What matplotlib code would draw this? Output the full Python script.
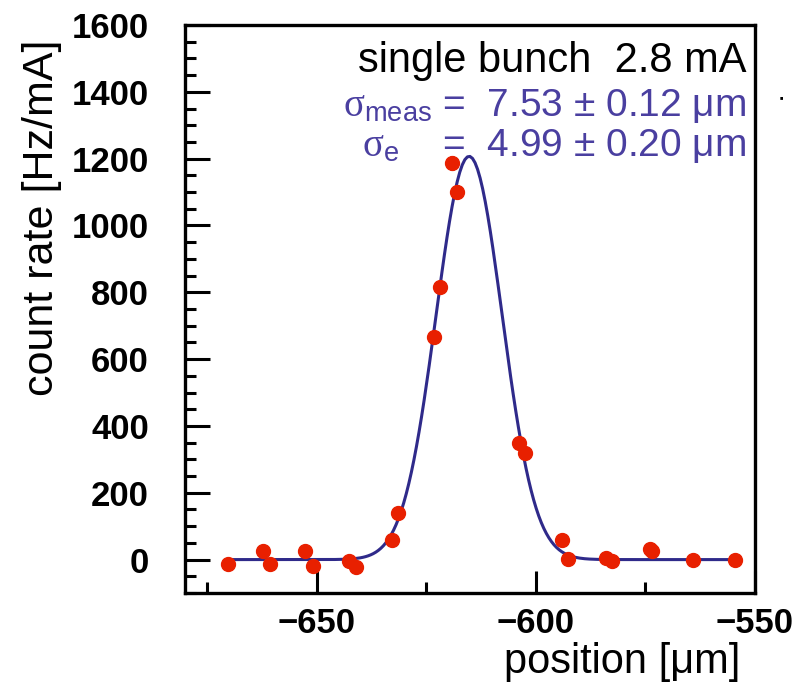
import numpy as np
import matplotlib
matplotlib.use("Agg")
import matplotlib.pyplot as plt
from matplotlib.ticker import MultipleLocator

plt.rcParams['font.family'] = ['Liberation Sans', 'DejaVu Sans']
plt.rcParams['mathtext.fontset'] = 'custom'
plt.rcParams['mathtext.rm'] = 'Liberation Serif'
plt.rcParams['mathtext.it'] = 'Liberation Serif:italic'
plt.rcParams['mathtext.sf'] = 'Liberation Sans'

# measured data (position in um, count rate in Hz/mA)
pos = [-670.2, -662.2, -660.7, -652.7, -650.8, -642.7, -641.0, -632.9, -631.4,
       -623.2, -621.9, -619.2, -617.9, -603.9, -602.5, -594.0, -592.7,
       -583.9, -582.7, -573.9, -573.4, -564.1, -554.6]
rate = [-12, 26, -12, 26, -20, -5, -22, 60, 140,
        667, 815, 1187, 1101, 350, 318, 60, 1,
        5, -5, 31, 26, -2, -2]
err = [12, 12, 12, 12, 12, 12, 12, 12, 12,
       18, 18, 20, 20, 16, 16, 12, 12,
       12, 12, 12, 12, 12, 12]

# gaussian fit parameters
fit_amp = 1207.0
fit_mu = -615.2
fit_sigma = 7.53
fit_range = (-670.2, -554.6)

fig = plt.figure(figsize=(8.07, 6.85), dpi=100)
ax = fig.add_axes([0.2292, 0.1343, 0.7064, 0.8292])

xf = np.linspace(fit_range[0], fit_range[1], 200)
yf = fit_amp * np.exp(-(xf - fit_mu) ** 2 / (2 * fit_sigma ** 2))
ax.plot(xf, yf, color='#2f2a8a', lw=2.2, zorder=2)

ax.errorbar(pos, rate, yerr=err, fmt='o', color='#e82000', ms=10,
            mec='#e82000', elinewidth=3.5, capsize=0, zorder=3)

ax.set_xlim(-680, -550)
ax.set_ylim(-100, 1600)
ax.xaxis.set_minor_locator(MultipleLocator(25))
ax.yaxis.set_major_locator(MultipleLocator(200))
ax.yaxis.set_minor_locator(MultipleLocator(50))
ax.set_xticks([-650, -600, -550])
ax.set_xticklabels(['\u2212650', '\u2212600', '\u2212550'])

for s in ax.spines.values():
    s.set_linewidth(2.4)
ax.tick_params(which='both', direction='in', top=False, right=False,
               width=2.2, labelsize=25)
ax.tick_params(axis='x', which='major', length=16, pad=10)
ax.tick_params(axis='x', which='minor', length=8)
ax.tick_params(axis='y', which='major', length=18, pad=26)
ax.tick_params(axis='y', which='minor', length=8)
for lab in ax.get_xticklabels() + ax.get_yticklabels():
    lab.set_fontweight('bold')

ax.set_xlabel('position [\u03bcm]', fontsize=30, loc='right')
ax.xaxis.set_label_coords(0.974, -0.086)
ax.set_ylabel('count rate [Hz/mA]', fontsize=31, loc='top')
ax.yaxis.set_label_coords(-0.215, 0.974)

ax.text(0.985, 0.972, 'single bunch  2.8 mA', transform=ax.transAxes,
        ha='right', va='top', fontsize=30, color='black')
ax.text(0.985, 0.89, r'$\mathrm{\sigma}_{\mathsf{meas}}$' + ' =  7.53 \u00b1 0.12 \u03bcm',
        transform=ax.transAxes, ha='right', va='top', fontsize=28, color='#4a3fa0')
ax.text(0.985, 0.82, r'$\mathrm{\sigma}_{\mathsf{e}}$' + '    =  4.99 \u00b1 0.20 \u03bcm',
        transform=ax.transAxes, ha='right', va='top', fontsize=28, color='#4a3fa0')

fig.text(0.968, 0.858, '\u25a0', fontsize=4, color='black', ha='center', va='center')

fig.savefig('out.png', dpi=100)
